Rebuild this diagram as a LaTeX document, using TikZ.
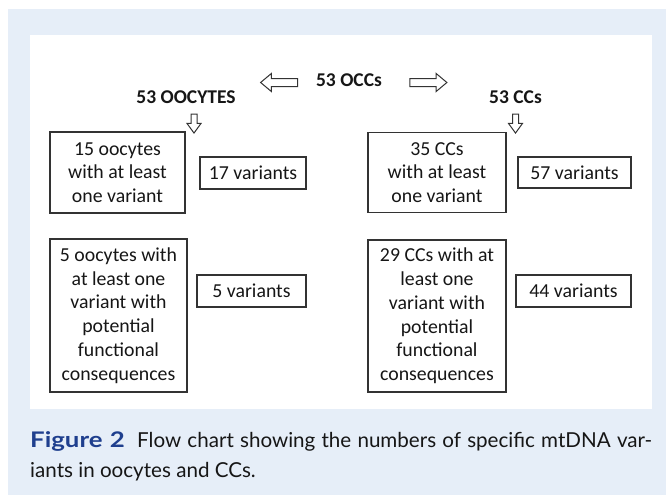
\documentclass[tikz,border=0pt]{standalone}
\usepackage{fontspec}
\setmainfont{Carlito}
\newfontfamily\capfont{Lato}
\newfontfamily\figfont[FakeStretch=1.2]{Lato}
\usetikzlibrary{shapes.arrows}
\definecolor{bgblue}{HTML}{E6EEF8}
\definecolor{figblue}{HTML}{1F3F8E}
\definecolor{ink}{HTML}{161616}
\definecolor{edge}{HTML}{333333}
\begin{document}
\begin{tikzpicture}[x=1pt,y=-1pt,
  box/.style={draw=edge, line width=1.3pt, inner sep=0pt, align=center, text=ink,
    font=\fontsize{19.8}{23.8}\selectfont},
  heading/.style={inner sep=0pt, text=ink, font=\fontsize{19.5}{23}\selectfont\bfseries},
  harrow/.style={single arrow, draw=edge, line width=1pt, inner xsep=0pt, inner ysep=3.5pt,
    minimum width=17pt, single arrow head extend=5pt, minimum height=37pt,
    single arrow tip angle=80},
  varrow/.style={single arrow, draw=edge, line width=1pt, inner sep=2.5pt,
    minimum width=13pt, single arrow head extend=4pt, minimum height=19pt,
    single arrow tip angle=72, shape border rotate=270},
  captxt/.style={inner sep=0pt, anchor=base west, text=ink, font=\capfont\fontsize{20.6}{30}\selectfont}
]
\useasboundingbox (0,0) rectangle (666,495);
\fill[bgblue] (8,9) rectangle (666,495);
\fill[white] (30,35) rectangle (652,409);

% headings
\node[heading] (occ) at (349,80) {53 OCCs};
\node[heading] (ooc) at (186,97) {53 OOCYTES};
\node[heading] (ccs) at (515.5,97) {53 CCs};

% hollow arrows
\node[harrow, shape border rotate=180] (la) at (281.5,82.5) {};
\node[harrow] (ra) at (426,82.5) {};
\node[varrow] (dl) at (194,121.5) {};
\node[varrow] (dr) at (515.5,121.5) {};

% boxes
\node[box, minimum width=135pt, minimum height=81pt] (b1) at (117.5,172.5)
  {15 oocytes\\with at least\\one variant};
\node[box, minimum width=106pt, minimum height=32pt] (v1) at (253,173) {17 variants};
\node[box, minimum width=138pt, minimum height=80pt] (b3) at (437,172.5)
  {35 CCs\\with at least\\one variant};
\node[box, minimum width=113pt, minimum height=31pt] (v3) at (574.5,172.5) {57 variants};
\node[box, minimum width=137pt, minimum height=153pt] (b2) at (118.5,315.5)
  {5 oocytes with\\at least one\\variant with\\potential\\functional\\consequences};
\node[box, minimum width=109pt, minimum height=32pt] (v2) at (251.5,291) {5 variants};
\node[box, minimum width=138pt, minimum height=152pt] (b4) at (437,316)
  {29 CCs with at\\least one\\variant with\\potential\\functional\\consequences};
\node[box, minimum width=115pt, minimum height=32pt] (v4) at (573.5,291) {44 variants};

% caption
\node[captxt] (cap1) at (30,447)
  {\makebox[622pt][s]{\textcolor{figblue}{\figfont\bfseries\fontsize{21.5}{30}\selectfont Figure 2}\ \ Flow chart showing the numbers of specific mtDNA var-}};
\node[captxt] (cap2) at (30,477) {iants in oocytes and CCs.};
\end{tikzpicture}
\end{document}
